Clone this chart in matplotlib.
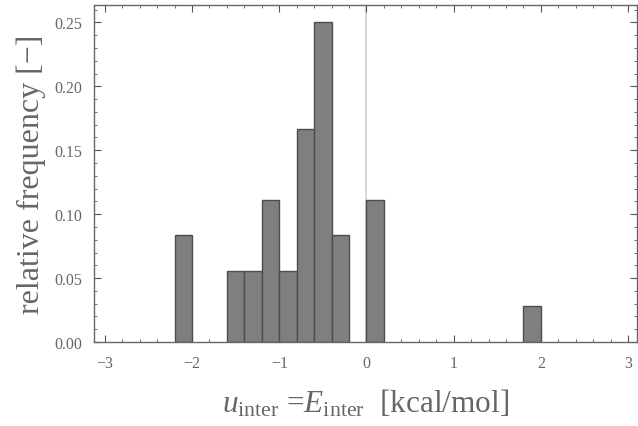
import matplotlib
matplotlib.use('Agg')
import matplotlib.pyplot as plt
import numpy as np
from matplotlib.ticker import MultipleLocator

plt.rcParams['font.family'] = ['Liberation Serif', 'DejaVu Serif']
plt.rcParams['mathtext.fontset'] = 'custom'
plt.rcParams['mathtext.rm'] = 'Liberation Serif'
plt.rcParams['mathtext.it'] = 'Liberation Serif:italic'

# histogram bins (left edges, width 0.2) and relative frequencies (n = 36)
bin_left = [-2.2, -1.6, -1.4, -1.2, -1.0, -0.8, -0.6, -0.4, 0.0, 1.8]
rel_freq = [3/36, 2/36, 2/36, 4/36, 2/36, 6/36, 9/36, 3/36, 4/36, 1/36]
bin_width = 0.2

xticks = [-3, -2, -1, 0, 1, 2, 3]
yticks = [0.00, 0.05, 0.10, 0.15, 0.20, 0.25]

fig = plt.figure(figsize=(6.38, 4.27), dpi=100)
ax = fig.add_axes([0.1466, 0.1967, 0.8514, 0.7893])

ax.axvline(0, color='#d0d0d0', lw=1.2, zorder=0)
ax.bar(bin_left, rel_freq, width=bin_width, align='edge',
       color='#7f7f7f', edgecolor='#4d4d4d', linewidth=1.0, zorder=2)

ax.set_xlim(-3.13, 3.1)
ax.set_ylim(0, 0.2636)
ax.set_xticks(xticks)
ax.set_xticklabels(['\u22123', '\u22122', '\u22121', '0', '1', '2', '3'])
ax.set_yticks(yticks)
ax.set_yticklabels(['%.2f' % v for v in yticks])
ax.xaxis.set_minor_locator(MultipleLocator(0.2))
ax.yaxis.set_minor_locator(MultipleLocator(0.01))

ax.tick_params(which='both', direction='in', top=True, right=True,
               colors='#555555', labelcolor='#666666', labelsize=11.5)
ax.tick_params(axis='x', which='major', pad=9)
ax.tick_params(axis='y', which='major', pad=8)
ax.tick_params(which='major', length=5, width=0.8)
ax.tick_params(which='minor', length=2.5, width=0.6)
for s in ax.spines.values():
    s.set_color('#666666')
    s.set_linewidth(1.0)

ax.set_ylabel('relative frequency [\u2212]', fontsize=23, color='#666666', labelpad=6)
ax.set_xlabel(r'$u_{\mathrm{inter}}$ =$E_{\mathrm{inter}}$  [kcal/mol]',
              fontsize=22.5, color='#666666', labelpad=12)

fig.savefig('out.png', dpi=100)
